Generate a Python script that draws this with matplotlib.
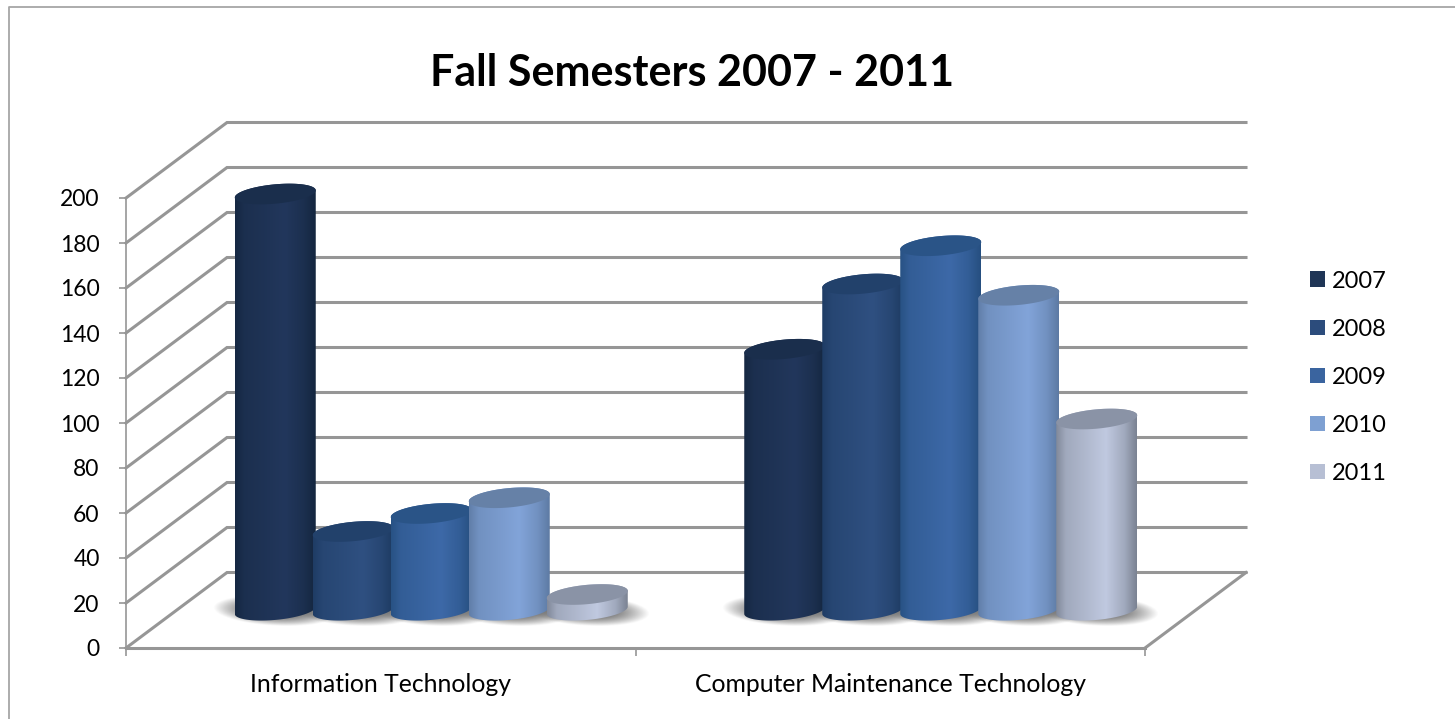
# plot.py
"""
Fall semesters enrolment chart, drawn as pseudo 3D cylinders
"""
import numpy as np
import matplotlib
matplotlib.use('Agg')
import matplotlib.pyplot as plt
from matplotlib.lines import Line2D
from matplotlib.patches import Patch, PathPatch
from matplotlib.path import Path
from matplotlib.colors import to_rgb

categories = ['Information Technology', 'Computer Maintenance Technology']
years = ['2007', '2008', '2009', '2010', '2011']
values_it = [185, 35, 43, 50, 7]
values_cmt = [116, 145, 162, 140, 85]
y_ticks = list(range(0, 201, 20))

legend_colors = ['#1f3556', '#2c4c7c', '#3a649f', '#7ea0d2', '#b7bfd4']
edge_colors = ['#14263f', '#1d3a61', '#264f80', '#5d7aa3', '#7a8292']
mid_colors = ['#22375c', '#2f5081', '#3d69a8', '#82a4d9', '#c0c9e0']
top_colors = ['#1a2e4c', '#22416b', '#2a5487', '#6681a7', '#8a93a6']

W, H = 1455, 719
GRID = '#969696'

# wall depth in data units
DEPTH_X = 101 / 509.5
DEPTH_Y = 75.5 / 2.25
STEP = 78 / 509.5
HALF_W = 40.5 / 509.5
ELL_B = 4.3
ELL_K = 1.6


def ellipse_xy(cx, cy, t):
    return cx + HALF_W * np.cos(t), cy + ELL_B * np.sin(t) + ELL_K * np.cos(t)


def closed_path(x, y):
    verts = np.column_stack([x, y])
    verts = np.vstack([verts, verts[0]])
    codes = [Path.MOVETO] + [Path.LINETO] * (len(verts) - 2) + [Path.CLOSEPOLY]
    return Path(verts, codes)


def gradient_image(ax, path, extent, edge, mid, zorder):
    edge, mid = np.array(to_rgb(edge)), np.array(to_rgb(mid))
    pos = np.linspace(0, 1, 200)
    # lighter a bit right of centre, dark on both sides
    weight = np.interp(pos, [0, 0.12, 0.35, 0.62, 0.85, 1], [0.1, 0.55, 0.75, 1, 0.55, 0])
    img = edge + (mid - edge) * weight[:, None]
    im = ax.imshow(img[None, :, :], extent=extent, aspect='auto', interpolation='bilinear',
                   zorder=zorder)
    patch = PathPatch(path, transform=ax.transData, fc='none', ec='none')
    im.set_clip_path(patch)
    im.set_clip_box(ax.figure.bbox)
    return im


def draw_shadow(ax, cx, cy):
    nx, ny = 160, 60
    xs = np.linspace(-1, 1, nx)
    ys = np.linspace(-1, 1, ny)
    xx, yy = np.meshgrid(xs, ys)
    tilt = yy + 0.2 * xx
    alpha = np.clip(1.25 * (1 - (xx ** 2 + tilt ** 2)), 0, 1) ** 1.1 * 0.75
    img = np.zeros((ny, nx, 4))
    img[..., :3] = 0.35
    img[..., 3] = alpha
    w = HALF_W + 22 / 509.5
    im = ax.imshow(img, extent=(cx - w, cx + w, cy - 7, cy + 6.5), aspect='auto',
                   origin='lower', interpolation='bilinear', zorder=2)
    im.set_clip_on(False)


def draw_cylinder(ax, cx, cy, value, j):
    top = cy + value
    t_top = np.linspace(0, np.pi, 80)
    t_bot = np.linspace(np.pi, 2 * np.pi, 80)
    xt, yt = ellipse_xy(cx, top, t_top)
    xb, yb = ellipse_xy(cx, cy, t_bot)
    body = closed_path(np.r_[xt, xb], np.r_[yt, yb])
    extent = (cx - HALF_W, cx + HALF_W, cy - 8, top + 8)
    gradient_image(ax, body, extent, edge_colors[j], mid_colors[j], 3 + j)
    t = np.linspace(0, 2 * np.pi, 160)
    xe, ye = ellipse_xy(cx, top, t)
    ax.fill(xe, ye, color=top_colors[j], lw=0, zorder=3 + j + 0.5, clip_on=False)


def main():
    fig = plt.figure(figsize=(W / 100, H / 100), dpi=100, facecolor='white')
    plt.rcParams['font.family'] = ['Lato', 'DejaVu Sans']
    ax = fig.add_axes([126 / W, 1 - 648 / H, (1145 - 126) / W, 450 / H])
    ax.patch.set_alpha(0)

    # walls and floor
    for v in y_ticks:
        ax.plot([0, DEPTH_X, 2 + DEPTH_X], [v, v + DEPTH_Y, v + DEPTH_Y], color=GRID, lw=2.2,
                clip_on=False, zorder=1, solid_joinstyle='miter')
    ax.plot([2, 2 + DEPTH_X], [0, DEPTH_Y], color=GRID, lw=2.2, clip_on=False, zorder=1)

    # shadows go under every bar
    for i, vals in enumerate([values_it, values_cmt]):
        for j in range(len(vals)):
            draw_shadow(ax, i + 0.5 + DEPTH_X / 2 + (j - 2) * STEP, DEPTH_Y / 2)

    for i, vals in enumerate([values_it, values_cmt]):
        for j, v in enumerate(vals):
            draw_cylinder(ax, i + 0.5 + DEPTH_X / 2 + (j - 2) * STEP, DEPTH_Y / 2, v, j)

    ax.set_xlim(0, 2)
    ax.set_ylim(0, 200)
    for side in ['top', 'right']:
        ax.spines[side].set_visible(False)
    ax.spines['left'].set_color(GRID)
    ax.spines['left'].set_linewidth(1.2)
    ax.spines['bottom'].set_color(GRID)
    ax.spines['bottom'].set_linewidth(2.2)

    ax.set_yticks(y_ticks)
    ax.set_yticklabels([str(v) for v in y_ticks])
    ax.tick_params(axis='y', length=5, width=1.2, color=GRID, labelsize=16.5, pad=14)
    ax.set_xticks([0, 1, 2])
    ax.set_xticklabels([])
    ax.tick_params(axis='x', length=6, width=1.2, color=GRID)
    ax.set_xticks([0.5, 1.5], minor=True)
    ax.set_xticklabels(categories, minor=True)
    ax.tick_params(axis='x', which='minor', length=0, labelsize=17.8, pad=18)

    fig.text(692 / W, 1 - 73 / H, 'Fall Semesters 2007 - 2011', ha='center', va='center',
             fontsize=31, fontweight='bold')

    handles = [Patch(fc=c, ec='none') for c in legend_colors]
    fig.legend(handles, years, loc='upper left', bbox_to_anchor=(1310 / W, 1 - 270.5 / H),
               frameon=False, fontsize=17, handlelength=0.63, handleheight=0.63,
               handletextpad=0.3, labelspacing=1.145, borderpad=0, borderaxespad=0)

    # chart frame shows only on top and left
    fig.add_artist(Line2D([9 / W, 9 / W, 1], [0, 1 - 7 / H, 1 - 7 / H], color='#a6a6a6', lw=1.3))

    fig.savefig('out.png', dpi=100)


if __name__ == "__main__":
    main()
